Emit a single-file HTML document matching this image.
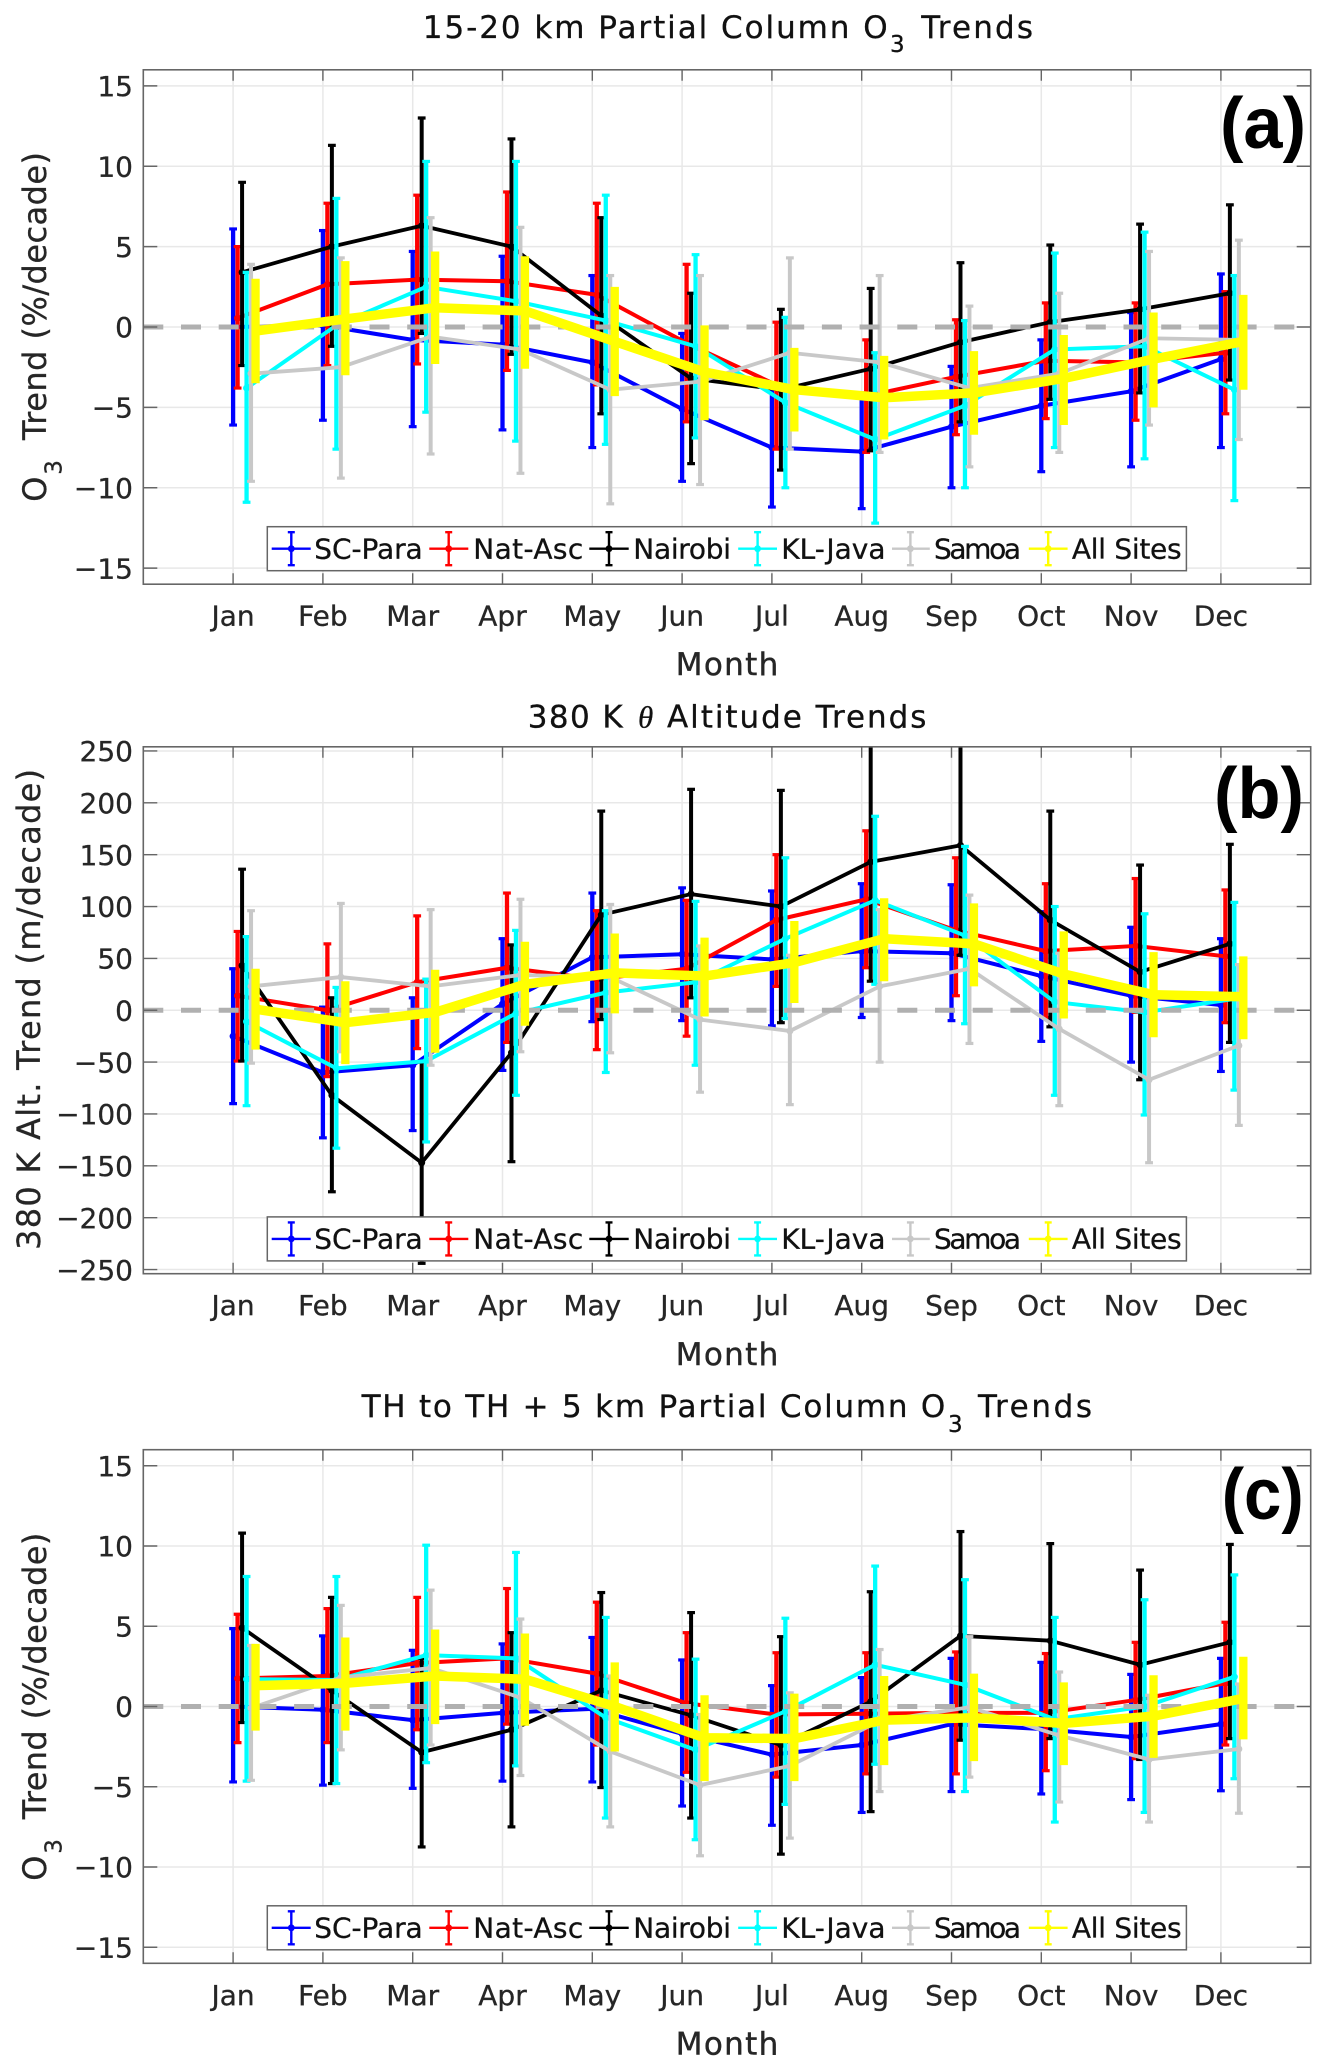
<!DOCTYPE html>
<html lang="en">
<head>
<meta charset="utf-8">
<title>Monthly O3 and 380 K altitude trends</title>
<style>
html,body{margin:0;padding:0;background:#fff;}
svg{display:block;}
text{font-family:"DejaVu Sans","Liberation Sans",sans-serif;}
.t{font-size:31px;fill:#111;stroke:#111;stroke-width:.3px;}
.yl{font-size:32px;fill:#262626;stroke:#262626;stroke-width:.3px;}
.xl{font-size:31px;fill:#262626;stroke:#262626;stroke-width:.4px;text-anchor:middle;}
.lg{font-size:28px;fill:#111;stroke:#111;stroke-width:.3px;}
.tk{font-size:28px;fill:#262626;stroke:#262626;stroke-width:.3px;}
.pl{font-family:"Liberation Sans",sans-serif;font-weight:bold;font-size:72px;fill:#000;}
</style>
</head>
<body>
<svg id="fig" xmlns="http://www.w3.org/2000/svg" width="1325" height="2068" viewBox="0 0 1325 2068">
<rect width="1325" height="2068" fill="#fff"/>
<g id="panels"></g>

<text class="t" y="38.2"><tspan x="422.8" textLength="464.8" lengthAdjust="spacing">15-20 km Partial Column O</tspan><tspan x="890" dy="14" font-size="23">3</tspan><tspan x="921.2" dy="-14" textLength="111.8" lengthAdjust="spacing">Trends</tspan></text>
<text class="t" y="727.3"><tspan x="527.7" textLength="95" lengthAdjust="spacing">380 K</tspan><tspan x="638" style="font-family:'Liberation Serif',serif;font-style:italic">θ</tspan><tspan x="667" textLength="259.4" lengthAdjust="spacing">Altitude Trends</tspan></text>
<text class="t" y="1417.2"><tspan x="361.6" textLength="583.7" lengthAdjust="spacing">TH to TH + 5 km Partial Column O</tspan><tspan x="948" dy="15" font-size="23">3</tspan><tspan x="978" dy="-15" textLength="114" lengthAdjust="spacing">Trends</tspan></text>

<text class="yl" transform="translate(46,501.7) rotate(-90)"><tspan x="0">O</tspan><tspan x="27" dy="15.5" font-size="23">3</tspan><tspan x="61.7" dy="-15.5" textLength="288" lengthAdjust="spacing">Trend (%/decade)</tspan></text>
<text class="yl" transform="translate(40,1249.9) rotate(-90)" textLength="481" lengthAdjust="spacing">380 K Alt. Trend (m/decade)</text>
<text class="yl" transform="translate(46,1880.7) rotate(-90)"><tspan x="0">O</tspan><tspan x="27" dy="15.5" font-size="23">3</tspan><tspan x="61.4" dy="-15.5" textLength="286.6" lengthAdjust="spacing">Trend (%/decade)</tspan></text>

<text class="xl" x="727" y="675" textLength="102.5" lengthAdjust="spacing">Month</text>
<text class="xl" x="727" y="1364.8" textLength="102.5" lengthAdjust="spacing">Month</text>
<text class="xl" x="727" y="2054.5" textLength="102.5" lengthAdjust="spacing">Month</text>

<g transform="translate(0,526.7)">
<rect x="267.3" y="0" width="919.1" height="44" fill="#fff" stroke="#666" stroke-width="1.5"/>
<g><path d="M271.7 22H310.7M291.3 5.5V38.5M287.8 5.5H294.8M287.8 38.5H294.8" stroke="#00f" stroke-width="2.4" fill="none"/><circle cx="291.3" cy="22" r="3.4" fill="#00f"/><text class="lg" x="314.3" y="31.6" textLength="108.4" lengthAdjust="spacing">SC-Para</text></g>
<g><path d="M429.3 22H468.3M448.7 5.5V38.5M445.2 5.5H452.2M445.2 38.5H452.2" stroke="#f00" stroke-width="2.4" fill="none"/><circle cx="448.7" cy="22" r="3.4" fill="#f00"/><text class="lg" x="473.3" y="31.6" textLength="110" lengthAdjust="spacing">Nat-Asc</text></g>
<g><path d="M589.3 22H628.7M609 5.5V38.5M605.5 5.5H612.5M605.5 38.5H612.5" stroke="#000" stroke-width="2.4" fill="none"/><circle cx="609" cy="22" r="3.4" fill="#000"/><text class="lg" x="633.3" y="31.6" textLength="97.7" lengthAdjust="spacing">Nairobi</text></g>
<g><path d="M738.2 22H777M757.6 5.5V38.5M754.1 5.5H761.1M754.1 38.5H761.1" stroke="#0ff" stroke-width="2.4" fill="none"/><circle cx="757.6" cy="22" r="3.4" fill="#0ff"/><text class="lg" x="781.3" y="31.6" textLength="104.2" lengthAdjust="spacing">KL-Java</text></g>
<g><path d="M892 22H929.8M910.4 5.5V38.5M906.9 5.5H913.9M906.9 38.5H913.9" stroke="#c8c8c8" stroke-width="2.4" fill="none"/><circle cx="910.4" cy="22" r="3.4" fill="#c8c8c8"/><text class="lg" x="934" y="31.6" textLength="87" lengthAdjust="spacing">Samoa</text></g>
<g><path d="M1028.8 22H1067.6M1048.2 5.5V38.5M1044.7 5.5H1051.7M1044.7 38.5H1051.7" stroke="#ff0" stroke-width="2.4" fill="none"/><circle cx="1048.2" cy="22" r="3.4" fill="#ff0"/><text class="lg" x="1071.9" y="31.6" textLength="109.7" lengthAdjust="spacing">All Sites</text></g>
</g>

<g transform="translate(0,1216.9)">
<rect x="267.3" y="0" width="919.1" height="44" fill="#fff" stroke="#666" stroke-width="1.5"/>
<g><path d="M271.7 22H310.7M291.3 5.5V38.5M287.8 5.5H294.8M287.8 38.5H294.8" stroke="#00f" stroke-width="2.4" fill="none"/><circle cx="291.3" cy="22" r="3.4" fill="#00f"/><text class="lg" x="314.3" y="31.6" textLength="108.4" lengthAdjust="spacing">SC-Para</text></g>
<g><path d="M429.3 22H468.3M448.7 5.5V38.5M445.2 5.5H452.2M445.2 38.5H452.2" stroke="#f00" stroke-width="2.4" fill="none"/><circle cx="448.7" cy="22" r="3.4" fill="#f00"/><text class="lg" x="473.3" y="31.6" textLength="110" lengthAdjust="spacing">Nat-Asc</text></g>
<g><path d="M589.3 22H628.7M609 5.5V38.5M605.5 5.5H612.5M605.5 38.5H612.5" stroke="#000" stroke-width="2.4" fill="none"/><circle cx="609" cy="22" r="3.4" fill="#000"/><text class="lg" x="633.3" y="31.6" textLength="97.7" lengthAdjust="spacing">Nairobi</text></g>
<g><path d="M738.2 22H777M757.6 5.5V38.5M754.1 5.5H761.1M754.1 38.5H761.1" stroke="#0ff" stroke-width="2.4" fill="none"/><circle cx="757.6" cy="22" r="3.4" fill="#0ff"/><text class="lg" x="781.3" y="31.6" textLength="104.2" lengthAdjust="spacing">KL-Java</text></g>
<g><path d="M892 22H929.8M910.4 5.5V38.5M906.9 5.5H913.9M906.9 38.5H913.9" stroke="#c8c8c8" stroke-width="2.4" fill="none"/><circle cx="910.4" cy="22" r="3.4" fill="#c8c8c8"/><text class="lg" x="934" y="31.6" textLength="87" lengthAdjust="spacing">Samoa</text></g>
<g><path d="M1028.8 22H1067.6M1048.2 5.5V38.5M1044.7 5.5H1051.7M1044.7 38.5H1051.7" stroke="#ff0" stroke-width="2.4" fill="none"/><circle cx="1048.2" cy="22" r="3.4" fill="#ff0"/><text class="lg" x="1071.9" y="31.6" textLength="109.7" lengthAdjust="spacing">All Sites</text></g>
</g>

<g transform="translate(0,1905.8)">
<rect x="267.3" y="0" width="919.1" height="44" fill="#fff" stroke="#666" stroke-width="1.5"/>
<g><path d="M271.7 22H310.7M291.3 5.5V38.5M287.8 5.5H294.8M287.8 38.5H294.8" stroke="#00f" stroke-width="2.4" fill="none"/><circle cx="291.3" cy="22" r="3.4" fill="#00f"/><text class="lg" x="314.3" y="31.6" textLength="108.4" lengthAdjust="spacing">SC-Para</text></g>
<g><path d="M429.3 22H468.3M448.7 5.5V38.5M445.2 5.5H452.2M445.2 38.5H452.2" stroke="#f00" stroke-width="2.4" fill="none"/><circle cx="448.7" cy="22" r="3.4" fill="#f00"/><text class="lg" x="473.3" y="31.6" textLength="110" lengthAdjust="spacing">Nat-Asc</text></g>
<g><path d="M589.3 22H628.7M609 5.5V38.5M605.5 5.5H612.5M605.5 38.5H612.5" stroke="#000" stroke-width="2.4" fill="none"/><circle cx="609" cy="22" r="3.4" fill="#000"/><text class="lg" x="633.3" y="31.6" textLength="97.7" lengthAdjust="spacing">Nairobi</text></g>
<g><path d="M738.2 22H777M757.6 5.5V38.5M754.1 5.5H761.1M754.1 38.5H761.1" stroke="#0ff" stroke-width="2.4" fill="none"/><circle cx="757.6" cy="22" r="3.4" fill="#0ff"/><text class="lg" x="781.3" y="31.6" textLength="104.2" lengthAdjust="spacing">KL-Java</text></g>
<g><path d="M892 22H929.8M910.4 5.5V38.5M906.9 5.5H913.9M906.9 38.5H913.9" stroke="#c8c8c8" stroke-width="2.4" fill="none"/><circle cx="910.4" cy="22" r="3.4" fill="#c8c8c8"/><text class="lg" x="934" y="31.6" textLength="87" lengthAdjust="spacing">Samoa</text></g>
<g><path d="M1028.8 22H1067.6M1048.2 5.5V38.5M1044.7 5.5H1051.7M1044.7 38.5H1051.7" stroke="#ff0" stroke-width="2.4" fill="none"/><circle cx="1048.2" cy="22" r="3.4" fill="#ff0"/><text class="lg" x="1071.9" y="31.6" textLength="109.7" lengthAdjust="spacing">All Sites</text></g>
</g>

<text class="pl" x="1220" y="148" textLength="86" lengthAdjust="spacingAndGlyphs">(a)</text>
<text class="pl" x="1214" y="818" textLength="90" lengthAdjust="spacingAndGlyphs">(b)</text>
<text class="pl" x="1221.7" y="1519" textLength="82" lengthAdjust="spacingAndGlyphs">(c)</text>
</svg>

<script>
// ---------- categories and tick labels ----------
const months = ['Jan','Feb','Mar','Apr','May','Jun','Jul','Aug','Sep','Oct','Nov','Dec'];
const yTicksO3 = [15,10,5,0,-5,-10,-15];
const yTicksAlt = [250,200,150,100,50,0,-50,-100,-150,-200,-250];

// ---------- panel (a) 15-20 km partial column O3 trend, %/decade ----------
const aParaMean = [0,0.1,-0.8,-1.1,-2.2,-5.1,-7.5,-7.75,-6.2,-4.9,-4.0,-2.0];
const aParaHigh = [6.1,6.0,4.7,4.4,3.2,-0.4,-3.8,-4.1,-2.45,-0.8,0.9,3.3];
const aParaLow = [-6.1,-5.8,-6.2,-6.4,-7.5,-9.6,-11.2,-11.3,-10,-9,-8.7,-7.5];
const aAscMean = [0.55,2.65,2.95,2.85,2.0,-1.0,-3.6,-4.3,-3.1,-2.1,-2.2,-1.6];
const aAscHigh = [5.0,7.7,8.2,8.4,7.7,3.9,0.3,-0.8,0.45,1.5,1.5,2.2];
const aAscLow = [-3.8,-2.4,-2.3,-2.7,-3.6,-5.9,-7.6,-7.8,-6.7,-5.7,-5.8,-5.4];
const aNairobiMean = [3.4,5.0,6.3,5.0,0.7,-3.2,-3.9,-2.6,-0.95,0.3,1.1,2.1];
const aNairobiHigh = [9.0,11.3,13.0,11.7,6.8,2.1,1.1,2.4,4.0,5.1,6.4,7.6];
const aNairobiLow = [-2.4,-1.2,-0.4,-1.7,-5.4,-8.5,-8.9,-7.7,-5.9,-4.5,-4.1,-3.3];
const aJavaMean = [-3.8,0.1,2.5,1.6,0.4,-1.2,-4.7,-7,-4.9,-1.4,-1.2,-3.9];
const aJavaHigh = [3.4,8.0,10.3,10.3,8.2,4.5,0.6,-1.6,0.4,4.6,5.9,3.2];
const aJavaLow = [-10.9,-7.6,-5.3,-7.1,-7.3,-6.9,-10,-12.2,-10,-7.5,-8.2,-10.8];
const aSamoaMean = [-2.9,-2.5,-0.6,-1.4,-3.9,-3.4,-1.6,-2.2,-3.8,-2.9,-0.7,-0.8];
const aSamoaHigh = [3.9,4.3,6.8,6.2,3.2,3.2,4.3,3.2,1.3,2.1,4.7,5.4];
const aSamoaLow = [-9.6,-9.4,-7.9,-9.1,-11.0,-9.8,-7.6,-7.8,-8.7,-7.8,-6.1,-7];
const aAllMean = [-0.25,0.5,1.2,1.0,-0.9,-2.8,-3.9,-4.4,-4.1,-3.2,-2,-0.9];
const aAllHigh = [3.0,4.1,4.7,4.4,2.5,0.1,-1.3,-1.8,-1.5,-0.5,0.9,2.0];
const aAllLow = [-3.5,-3.0,-2.3,-2.6,-4.3,-5.8,-6.5,-7,-6.7,-6.1,-5,-3.9];

// ---------- panel (b) 380 K altitude trend, m/decade ----------
const bParaMean = [-25,-60,-53,6,51,54,49,57,55,33,14,5];
const bParaHigh = [40,3,12,69,113,118,115,122,121,95,80,69];
const bParaLow = [-90,-123,-116,-58,-11,-10,-15,-7,-10,-30,-50,-59];
const bAscMean = [14,0,27,41,30,40,87,107,77,57,62,52];
const bAscHigh = [76,64,91,113,96,106,150,173,147,122,127,116];
const bAscLow = [-49,-64,-37,-31,-38,-25,23,41,14,-7,-2,-12];
const bNairobiMean = [43,-82,-147,-41,92,112,100,143,159,87,37,64];
const bNairobiHigh = [136,12,-50,63,192,213,212,258,265,192,140,160];
const bNairobiLow = [-49,-175,-244,-146,-9,12,-12,28,53,-16,-67,-31];
const bJavaMean = [-11,-56,-49,-3,17,27,69,106,72,8,-2,11];
const bJavaHigh = [71,22,30,77,96,105,147,187,158,100,93,104];
const bJavaLow = [-92,-133,-127,-82,-60,-53,-8,25,-13,-82,-101,-77];
const bSamoaMean = [23,32,23,34,32,-9,-20,23,40,-18,-67,-34];
const bSamoaHigh = [96,103,97,107,102,62,53,97,111,55,15,44];
const bSamoaLow = [-51,-40,-53,-40,-41,-79,-91,-50,-32,-92,-147,-111];
const bAllMean = [1,-12,-2,25,36,33,46,69,64,35,15,13];
const bAllHigh = [40,28,39,66,74,70,86,108,103,76,56,52];
const bAllLow = [-38,-52,-41,-15,-3,-6,7,28,23,-8,-26,-28];

// ---------- panel (c) TH to TH + 5 km partial column O3 trend, %/decade ----------
const cParaMean = [0,-0.2,-0.85,-0.4,-0.15,-1.7,-3.0,-2.4,-1.1,-1.4,-1.9,-1.1];
const cParaHigh = [4.85,4.4,3.5,3.9,4.3,2.9,1.3,1.8,3.0,2.75,2,3];
const cParaLow = [-4.7,-4.9,-5.1,-4.65,-4.7,-6.2,-7.4,-6.6,-5.3,-5.45,-5.8,-5.25];
const cAscMean = [1.75,1.9,2.7,3.0,2.05,0.2,-0.5,-0.45,-0.4,-0.4,0.4,1.45];
const cAscHigh = [5.75,6.1,6.8,7.35,6.5,4.6,3.35,3.35,3.4,3.3,4.0,5.25];
const cAscLow = [-2.25,-2.25,-1.45,-1.1,-2.4,-4.1,-4.4,-4.2,-4.2,-4,-3.25,-2.4];
const cNairobiMean = [4.9,1.0,-2.85,-1.45,1.0,-0.55,-2.4,0.3,4.4,4.1,2.6,4.0];
const cNairobiHigh = [10.8,6.8,3.0,4.6,7.1,5.85,4.35,7.15,10.9,10.15,8.5,10.1];
const cNairobiLow = [-1,-4.8,-8.75,-7.5,-5.05,-6.95,-9.2,-6.55,-2.1,-2,-3.3,-2];
const cJavaMean = [1.7,1.65,3.2,3.0,-0.7,-2.7,-0.3,2.6,1.35,-0.8,0,1.85];
const cJavaHigh = [8.1,8.1,10.05,9.6,5.55,2.95,5.5,8.75,7.9,5.55,6.65,8.2];
const cJavaLow = [-4.65,-4.8,-3.5,-3.7,-6.95,-8.3,-6.1,-3.6,-5.3,-7.2,-6.6,-4.5];
const cSamoaMean = [-0.1,1.8,2.4,0.55,-2.8,-4.9,-3.7,-0.9,-0.05,-1.8,-3.3,-2.65];
const cSamoaHigh = [3.8,6.3,7.25,5.45,1.9,-0.5,0.85,3.55,4.35,2.15,0.7,1.4];
const cSamoaLow = [-4.6,-2.7,-2.4,-4.3,-7.5,-9.3,-8.2,-5.3,-4.4,-5.95,-7.2,-6.65];
const cAllMean = [1.3,1.45,1.9,1.7,0,-1.95,-2,-0.85,-0.7,-1.05,-0.6,0.5];
const cAllHigh = [3.9,4.3,4.8,4.55,2.75,0.7,0.8,1.9,2.05,1.5,1.95,3.1];
const cAllLow = [-1.5,-1.5,-1.1,-1.2,-2.8,-4.65,-4.65,-3.65,-3.4,-3.65,-3.2,-2.05];

// ---------- drawing ----------
const NS = 'http://www.w3.org/2000/svg';
const root = document.getElementById('panels');
const axLeft = 143.3, axRight = 1310.7, xMax = 13;
const xAxis = m => axLeft + (m / xMax) * (axRight - axLeft);

function make(tag, parent, attrs) {
  const el = document.createElementNS(NS, tag);
  for (const k in attrs) el.setAttribute(k, attrs[k]);
  parent.appendChild(el);
  return el;
}

function drawSeries(parent, name, color, idx, mean, high, low, xAt, yAxis, lw, barW, capW, markerR) {
  const g = make('g', parent, {});
  
  
  const pts = mean.map((v, i) => xAt(i, idx).toFixed(2) + ',' + yAxis(v).toFixed(2)).join(' ');
  const line = make('polyline', g, { points: pts, fill: 'none', stroke: color, 'stroke-width': lw, 'stroke-linejoin': 'round' });
  
  
  mean.forEach((v, i) => {
    const x = xAt(i, idx), yh = yAxis(high[i]), yl = yAxis(low[i]);
    const bar = make('line', g, { x1: x, x2: x, y1: yh, y2: yl, stroke: color, 'stroke-width': barW });
    
    
    if (capW > barW) {
      const c1 = make('line', g, { x1: x - capW / 2, x2: x + capW / 2, y1: yh, y2: yh, stroke: color, 'stroke-width': 3.2 });
      
      
      const c2 = make('line', g, { x1: x - capW / 2, x2: x + capW / 2, y1: yl, y2: yl, stroke: color, 'stroke-width': 3.2 });
      
      
    }
    if (markerR > 0) {
      const dot = make('circle', g, { cx: x, cy: yAxis(v), r: markerR, fill: color });
      
      
    }
  });
}

function drawPanel(key, top, bottom, yMax, yTicks, s) {
  const mid = (top + bottom) / 2;
  const yAxis = v => mid - (v / yMax) * ((bottom - top) / 2);
  const xAt = (i, idx) => xAxis(i + 1 + idx * 0.05);
  const g = make('g', root, {});
  
  

  const cid = 'clip-' + key;
  const defs = make('defs', g, {});
  const cp = make('clipPath', defs, { id: cid });
  make('rect', cp, { x: axLeft, y: top, width: axRight - axLeft, height: bottom - top });

  months.forEach((m, i) => {
    const x = xAxis(i + 1);
    const gl = make('line', g, { x1: x, x2: x, y1: top, y2: bottom, stroke: '#e8e8e8', 'stroke-width': 1.5 });
    
    
  });
  yTicks.forEach(t => {
    const y = yAxis(t);
    const gl = make('line', g, { x1: axLeft, x2: axRight, y1: y, y2: y, stroke: '#e8e8e8', 'stroke-width': 1.5 });
    
    
  });

  const plot = make('g', g, { 'clip-path': 'url(#' + cid + ')' });
  
  
  drawSeries(plot, 'sc-para', '#0000ff', 0, s[0], s[1], s[2], xAt, yAxis, 4, 4.3, 7.8, 3.5);
  drawSeries(plot, 'nat-asc', '#ff0000', 1, s[3], s[4], s[5], xAt, yAxis, 4, 4.3, 7.8, 3.5);
  drawSeries(plot, 'nairobi', '#000000', 2, s[6], s[7], s[8], xAt, yAxis, 3.8, 4, 7.8, 3.5);
  drawSeries(plot, 'kl-java', '#00ffff', 3, s[9], s[10], s[11], xAt, yAxis, 4, 4.3, 7.8, 3.5);
  drawSeries(plot, 'samoa', '#c8c8c8', 4, s[12], s[13], s[14], xAt, yAxis, 3.8, 4, 7.8, 3.5);
  const zero = make('line', plot, { x1: axLeft, x2: axRight, y1: yAxis(0), y2: yAxis(0), stroke: '#b0b0b0', 'stroke-width': 5, 'stroke-dasharray': '20 17.7' });
  
  
  drawSeries(plot, 'all-sites', '#ffff00', 5, s[15], s[16], s[17], xAt, yAxis, 9.5, 8.3, 0, 0);

  const box = make('rect', g, { x: axLeft, y: top, width: axRight - axLeft, height: bottom - top, fill: 'none', stroke: '#666', 'stroke-width': 1.6 });
  
  

  months.forEach((m, i) => {
    const x = xAxis(i + 1);
    const tk = make('path', g, { d: 'M' + x + ' ' + top + 'v11M' + x + ' ' + bottom + 'v-11', stroke: '#666', 'stroke-width': 1.4, fill: 'none' });
    
    
    const lb = make('text', g, { x: x, y: bottom + 41.5, 'text-anchor': 'middle', class: 'tk' });
    
    
    lb.textContent = m;
  });
  yTicks.forEach(t => {
    const y = yAxis(t);
    const tk = make('path', g, { d: 'M' + axLeft + ' ' + y + 'h14M' + axRight + ' ' + y + 'h-14', stroke: '#666', 'stroke-width': 1.4, fill: 'none' });
    
    
    const lb = make('text', g, { x: 133, y: y + 10.2, 'text-anchor': 'end', class: 'tk' });
    
    
    lb.textContent = String(t).replace('-', '\u2212');
  });
}

drawPanel('a', 69.8, 584.2, 16, yTicksO3, [aParaMean,aParaHigh,aParaLow,aAscMean,aAscHigh,aAscLow,aNairobiMean,aNairobiHigh,aNairobiLow,aJavaMean,aJavaHigh,aJavaLow,aSamoaMean,aSamoaHigh,aSamoaLow,aAllMean,aAllHigh,aAllLow]);
drawPanel('b', 746.8, 1273.7, 254, yTicksAlt, [bParaMean,bParaHigh,bParaLow,bAscMean,bAscHigh,bAscLow,bNairobiMean,bNairobiHigh,bNairobiLow,bJavaMean,bJavaHigh,bJavaLow,bSamoaMean,bSamoaHigh,bSamoaLow,bAllMean,bAllHigh,bAllLow]);
drawPanel('c', 1449.7, 1963.3, 16, yTicksO3, [cParaMean,cParaHigh,cParaLow,cAscMean,cAscHigh,cAscLow,cNairobiMean,cNairobiHigh,cNairobiLow,cJavaMean,cJavaHigh,cJavaLow,cSamoaMean,cSamoaHigh,cSamoaLow,cAllMean,cAllHigh,cAllLow]);
</script>
</body>
</html>
